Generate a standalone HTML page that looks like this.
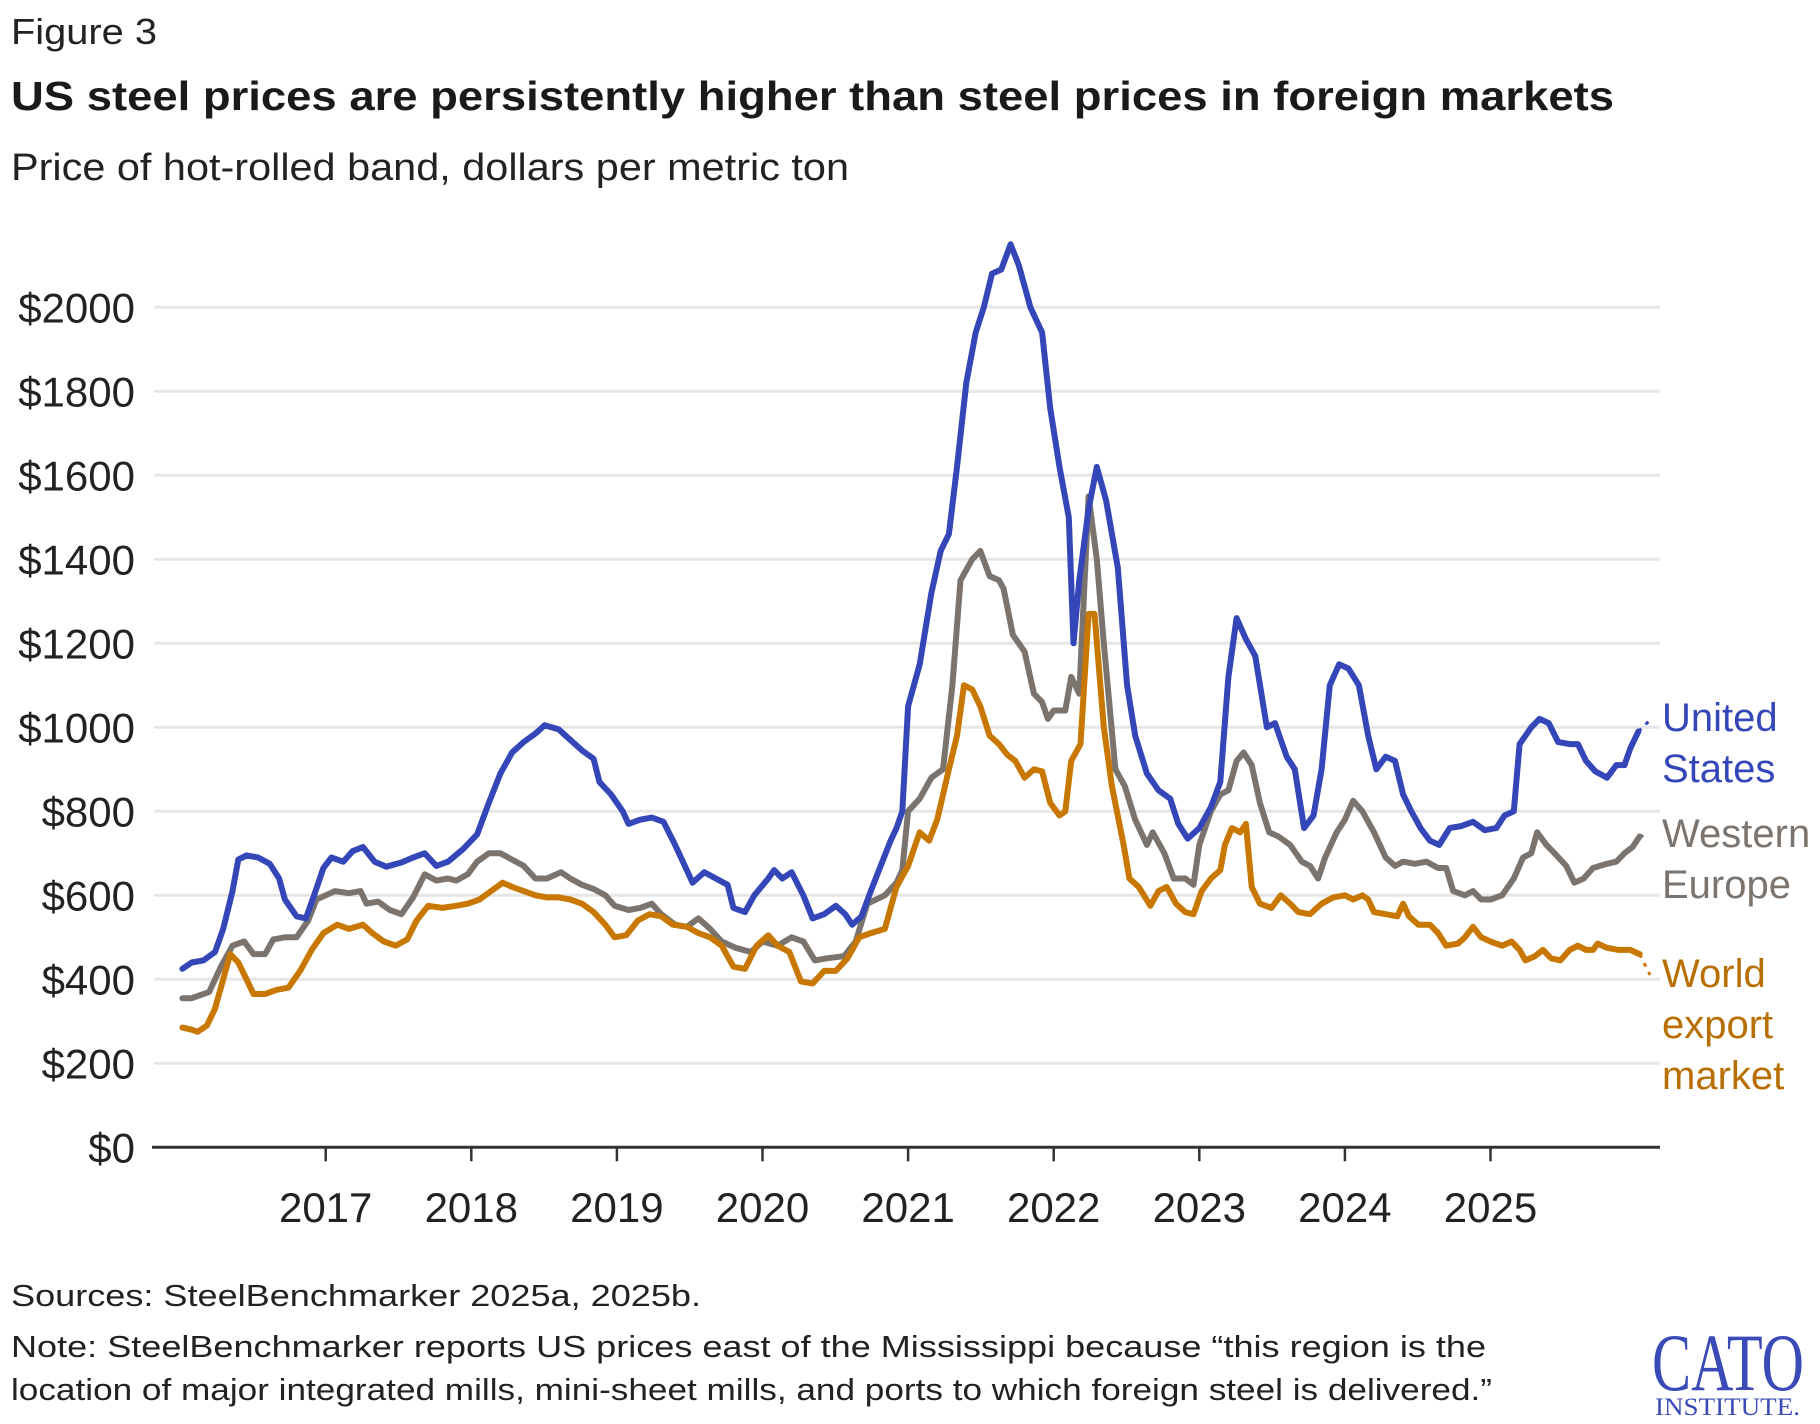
<!DOCTYPE html>
<html><head><meta charset="utf-8"><style>
html,body{margin:0;padding:0;background:#fff;}
svg{display:block;font-family:"Liberation Sans",sans-serif;}
</style></head><body>
<svg id="chart" width="1820" height="1424" viewBox="0 0 1820 1424" xmlns="http://www.w3.org/2000/svg">
<text x="11" y="44" font-size="36" fill="#222" textLength="146" lengthAdjust="spacingAndGlyphs">Figure 3</text>
<text x="11" y="110" font-size="41" font-weight="bold" fill="#1a1a1a" textLength="1603" lengthAdjust="spacingAndGlyphs">US steel prices are persistently higher than steel prices in foreign markets</text>
<text x="11" y="180" font-size="38" fill="#222" textLength="838" lengthAdjust="spacingAndGlyphs">Price of hot-rolled band, dollars per metric ton</text>
<g id="grid"></g>
<g id="yaxis"></g>
<g id="xaxis"></g>
<g id="series"></g>
<g font-size="40">
<text fill="#3446b8"><tspan x="1662" y="731">United</tspan><tspan x="1662" y="782">States</tspan></text>
<text fill="#7b746e"><tspan x="1662" y="847">Western</tspan><tspan x="1662" y="898">Europe</tspan></text>
<text fill="#b96f00"><tspan x="1662" y="987">World</tspan><tspan x="1662" y="1038">export</tspan><tspan x="1662" y="1089">market</tspan></text>
</g>
<text x="11" y="1306" font-size="31" fill="#222" textLength="690" lengthAdjust="spacingAndGlyphs">Sources: SteelBenchmarker 2025a, 2025b.</text>
<text x="11" y="1357" font-size="31" fill="#222" textLength="1475" lengthAdjust="spacingAndGlyphs">Note: SteelBenchmarker reports US prices east of the Mississippi because “this region is the</text>
<text x="11" y="1400" font-size="31" fill="#222" textLength="1481" lengthAdjust="spacingAndGlyphs">location of major integrated mills, mini-sheet mills, and ports to which foreign steel is delivered.”</text>
<g fill="#3a4bb8" font-family="'Liberation Serif',serif">
<text x="1652" y="1390" font-size="82" textLength="152" lengthAdjust="spacingAndGlyphs">CATO</text>
<text x="1655" y="1415" font-size="25" textLength="145" lengthAdjust="spacingAndGlyphs">INSTITUTE.</text>
</g>
</svg>
<script>
const yTicks=[0,200,400,600,800,1000,1200,1400,1600,1800,2000];
const xTicks=[2017,2018,2019,2020,2021,2022,2023,2024,2025];
const usDates=[2016.016,2016.08,2016.16,2016.24,2016.296,2016.36,2016.4,2016.456,2016.536,2016.616,2016.68,2016.72,2016.8,2016.864,2016.92,2016.984,2017.04,2017.12,2017.184,2017.256,2017.336,2017.416,2017.52,2017.6,2017.68,2017.76,2017.84,2017.944,2018.04,2018.12,2018.2,2018.28,2018.36,2018.44,2018.504,2018.6,2018.68,2018.76,2018.84,2018.88,2018.96,2019.04,2019.08,2019.16,2019.24,2019.32,2019.4,2019.48,2019.52,2019.6,2019.68,2019.76,2019.8,2019.88,2019.944,2020.04,2020.08,2020.136,2020.2,2020.28,2020.344,2020.424,2020.504,2020.568,2020.616,2020.68,2020.744,2020.8,2020.88,2020.92,2020.96,2021.0,2021.08,2021.16,2021.224,2021.28,2021.336,2021.4,2021.464,2021.52,2021.576,2021.64,2021.704,2021.76,2021.84,2021.92,2021.976,2022.04,2022.104,2022.136,2022.176,2022.24,2022.296,2022.36,2022.44,2022.504,2022.56,2022.64,2022.72,2022.8,2022.856,2022.92,2023.0,2023.08,2023.144,2023.2,2023.256,2023.32,2023.384,2023.464,2023.52,2023.6,2023.656,2023.72,2023.784,2023.84,2023.896,2023.96,2024.024,2024.096,2024.16,2024.216,2024.28,2024.344,2024.4,2024.456,2024.52,2024.584,2024.648,2024.72,2024.8,2024.88,2024.96,2025.04,2025.096,2025.16,2025.2,2025.28,2025.336,2025.4,2025.464,2025.544,2025.6,2025.656,2025.72,2025.8,2025.864,2025.92,2025.96,2026.016];
const usValues=[425,440,445,465,520,610,685,695,690,675,640,590,550,545,600,665,690,680,705,715,680,668,678,690,700,670,680,710,745,820,890,940,965,985,1005,995,970,945,925,870,840,800,770,780,785,775,720,660,630,655,640,625,570,560,600,640,660,640,655,600,545,555,575,555,530,550,610,660,730,760,800,1050,1150,1320,1420,1460,1620,1820,1940,2000,2080,2090,2150,2100,2000,1940,1760,1620,1500,1200,1350,1520,1620,1540,1380,1100,980,890,850,830,770,735,760,810,870,1120,1260,1210,1170,1000,1010,930,900,760,790,900,1100,1150,1140,1100,980,900,930,920,840,800,760,730,720,760,765,775,755,760,790,800,960,1000,1020,1010,965,960,960,920,895,880,910,910,950,990];
const weDates=[2016.016,2016.08,2016.2,2016.28,2016.36,2016.44,2016.504,2016.584,2016.64,2016.72,2016.8,2016.88,2016.936,2017.0,2017.064,2017.16,2017.24,2017.28,2017.36,2017.44,2017.52,2017.6,2017.68,2017.76,2017.84,2017.896,2017.976,2018.04,2018.12,2018.2,2018.28,2018.36,2018.44,2018.52,2018.616,2018.68,2018.76,2018.84,2018.92,2018.984,2019.08,2019.16,2019.24,2019.304,2019.4,2019.48,2019.56,2019.64,2019.72,2019.816,2019.92,2020.0,2020.104,2020.2,2020.28,2020.36,2020.44,2020.56,2020.64,2020.72,2020.84,2020.92,2020.96,2021.0,2021.08,2021.16,2021.24,2021.304,2021.36,2021.44,2021.496,2021.56,2021.624,2021.656,2021.72,2021.8,2021.864,2021.92,2021.96,2022.0,2022.08,2022.12,2022.176,2022.24,2022.296,2022.344,2022.424,2022.488,2022.56,2022.64,2022.68,2022.76,2022.824,2022.904,2022.96,2023.0,2023.08,2023.144,2023.2,2023.256,2023.304,2023.36,2023.416,2023.48,2023.544,2023.624,2023.704,2023.76,2023.816,2023.864,2023.944,2024.0,2024.056,2024.12,2024.2,2024.28,2024.344,2024.4,2024.48,2024.56,2024.64,2024.696,2024.744,2024.824,2024.88,2024.936,2025.0,2025.08,2025.16,2025.224,2025.28,2025.32,2025.384,2025.44,2025.52,2025.576,2025.64,2025.704,2025.8,2025.864,2025.92,2025.976,2026.024];
const weValues=[355,355,370,430,480,490,460,460,495,500,500,540,590,600,610,605,610,580,585,565,555,595,650,635,640,635,650,680,700,700,685,670,640,640,655,640,625,615,600,575,565,570,580,555,530,525,545,520,490,475,465,490,480,500,490,445,450,455,490,580,600,630,660,800,830,880,900,1100,1350,1400,1420,1360,1350,1330,1220,1180,1080,1060,1020,1040,1040,1120,1080,1550,1400,1200,900,860,780,720,750,700,640,640,625,720,800,840,850,920,940,910,820,750,740,720,680,670,640,690,750,780,825,800,750,690,670,680,675,680,665,665,610,600,610,590,590,600,640,690,700,750,720,700,670,630,640,665,675,680,700,715,740];
const wxDates=[2016.016,2016.08,2016.12,2016.184,2016.24,2016.296,2016.344,2016.4,2016.456,2016.504,2016.584,2016.664,2016.744,2016.824,2016.904,2016.984,2017.08,2017.16,2017.256,2017.32,2017.4,2017.48,2017.56,2017.624,2017.704,2017.8,2017.896,2017.976,2018.056,2018.136,2018.216,2018.28,2018.36,2018.44,2018.52,2018.6,2018.68,2018.76,2018.84,2018.92,2018.984,2019.064,2019.144,2019.224,2019.304,2019.384,2019.48,2019.56,2019.64,2019.72,2019.8,2019.88,2019.96,2020.04,2020.104,2020.184,2020.264,2020.344,2020.424,2020.504,2020.584,2020.664,2020.744,2020.84,2020.92,2021.0,2021.08,2021.144,2021.2,2021.28,2021.336,2021.384,2021.44,2021.496,2021.56,2021.624,2021.68,2021.736,2021.8,2021.864,2021.92,2021.976,2022.04,2022.08,2022.12,2022.184,2022.24,2022.28,2022.344,2022.4,2022.48,2022.52,2022.584,2022.664,2022.72,2022.776,2022.84,2022.904,2022.96,2023.016,2023.08,2023.144,2023.176,2023.224,2023.28,2023.32,2023.36,2023.416,2023.496,2023.56,2023.624,2023.68,2023.76,2023.84,2023.92,2024.0,2024.056,2024.12,2024.16,2024.2,2024.28,2024.36,2024.4,2024.44,2024.504,2024.584,2024.64,2024.696,2024.776,2024.824,2024.88,2024.936,2025.0,2025.08,2025.144,2025.2,2025.24,2025.304,2025.36,2025.416,2025.48,2025.544,2025.6,2025.656,2025.704,2025.736,2025.8,2025.88,2025.96,2026.024];
const wxValues=[285,280,275,290,330,400,460,440,400,365,365,375,380,420,470,510,530,520,530,510,490,480,495,540,575,570,575,580,590,610,630,620,610,600,595,595,590,580,560,530,500,505,540,555,550,530,525,510,500,480,430,425,480,505,480,465,395,390,420,420,450,500,510,520,620,670,750,730,780,900,980,1100,1090,1050,980,960,935,920,880,900,895,820,790,800,920,960,1270,1270,1000,860,720,640,620,575,610,620,580,560,555,610,640,660,720,760,750,770,620,580,570,600,580,560,555,580,595,600,590,600,590,560,555,550,580,550,530,530,510,480,485,500,525,500,490,480,490,470,445,455,470,450,445,470,480,470,470,485,475,470,470,460];

const NS='http://www.w3.org/2000/svg';
const X0=325.7,XW=145.6,Y0=1147.3,YK=0.42;
function xScale(t){return X0+(t-2017)*XW;}
function yScale(v){return Y0-v*YK;}
function mk(tag,attrs,parent){const e=document.createElementNS(NS,tag);for(const k in attrs)e.setAttribute(k,attrs[k]);parent.appendChild(e);return e;}
const grid=document.getElementById('grid'),yax=document.getElementById('yaxis'),xax=document.getElementById('xaxis'),ser=document.getElementById('series');
yTicks.forEach(v=>{
  if(v>0){const l=mk('line',{x1:154,x2:1660,y1:yScale(v),y2:yScale(v),stroke:'#e6e6e6','stroke-width':3},grid);
  
  }
  const t=mk('text',{x:135,y:yScale(v)+15,'font-size':42,'text-anchor':'end',fill:'#222'},yax);
  t.textContent='$'+v;
  
  
});
const ax=mk('line',{x1:152,x2:1660,y1:Y0,y2:Y0,stroke:'#333','stroke-width':3},xax);


xTicks.forEach(y=>{
  const tk=mk('line',{x1:xScale(y),x2:xScale(y),y1:Y0,y2:Y0+14,stroke:'#333','stroke-width':2.5},xax);
  
  
  const t=mk('text',{x:xScale(y),y:1222,'font-size':42,'text-anchor':'middle',fill:'#222'},xax);
  t.textContent=y;
  
  
});
function drawSeries(dates,vals,color,name,endTo){
  const d=dates.map((t,i)=>(i?'L':'M')+xScale(t).toFixed(1)+','+yScale(vals[i]).toFixed(1)).join('');
  const p=mk('path',{d:d,fill:'none',stroke:color,'stroke-width':6,'stroke-linejoin':'round','stroke-linecap':'round'},ser);
  
  
  const lx=xScale(dates[dates.length-1]),ly=yScale(vals[vals.length-1]);
  const c=mk('line',{x1:lx,y1:ly,x2:endTo[0],y2:endTo[1],stroke:color,'stroke-width':3,'stroke-dasharray':'4 6'},ser);
  
  
}
drawSeries(weDates,weValues,'#7b746e','line-western-europe',[1648,835]);
drawSeries(wxDates,wxValues,'#c87800','line-world-export',[1650,975]);
drawSeries(usDates,usValues,'#3446b8','line-united-states',[1652,718]);
</script>
</body></html>
